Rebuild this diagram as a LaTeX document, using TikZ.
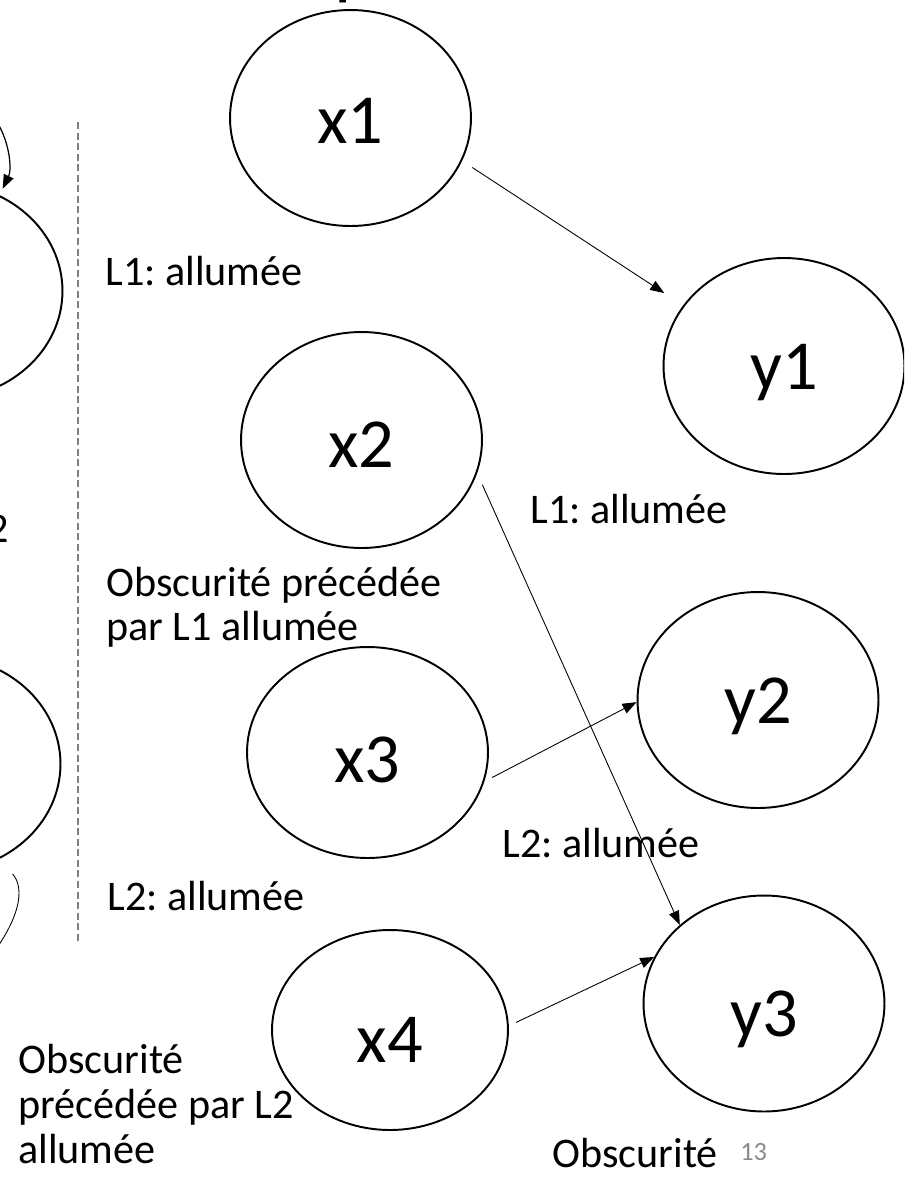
\documentclass[tikz,border=0pt]{standalone}
\usepackage{fontspec}
\setmainfont{Carlito}
\usetikzlibrary{shapes.geometric,arrows.meta}
\definecolor{pagenum}{HTML}{8A8A8A}
\definecolor{dashgray}{HTML}{7F7F7F}
\frenchspacing
\begin{document}
\begin{tikzpicture}[x=0.02cm,y=-0.02cm,
  state/.style={draw, ellipse, line width=1.1pt, minimum width=4.82cm, minimum height=4.32cm,
    inner sep=0pt, text height=0.92cm, text depth=0pt, font=\fontsize{40}{48}\selectfont},
  lbl/.style={anchor=base west, inner sep=0pt, font=\fontsize{24}{29}\selectfont},
  conn/.style={line width=0.5pt, -{Triangle[length=8pt,width=6pt]}},
  loopline/.style={line width=0.7pt},
]
\useasboundingbox (0,0) rectangle (904,1191);
\clip (0,0) rectangle (904,1191);

% states
\node[state, text height=1.0cm] (x1) at (350.5,118) {x1};
\node[state, text height=1.08cm] (x2) at (361.5,440) {x2};
\node[state, minimum height=4.22cm, text height=1.2cm] (x3) at (367.5,752.5) {x3};
\node[state, minimum width=4.72cm, minimum height=4.0cm, text height=1.28cm] (x4) at (390,1030) {x4};
\node[state] (y1) at (784,366) {y1};
\node[state] (y2) at (758,700) {y2};
\node[state, text height=1.32cm] (y3) at (764,1003.5) {y3};
\node[state] (lc1) at (-58,291) {};
\node[state] (lc2) at (-60,764) {};

% connectors
\draw[conn, shorten <=0.24cm, shorten >=0.45cm] (x1.-21) -- (y1.149);
\draw[conn, shorten <=0.256cm] (x2.-16.7) -- (y3.137.5);
\draw[conn, shorten <=0.176cm] (x3.-14.4) -- (y2.181);
\draw[conn, shorten <=0.16cm] (x4.2.7) -- (y3.157.4);

% self loops of the cut-off states
\coordinate (l1s) at (-30,100);
\draw[loopline, -{Triangle[length=8pt,width=6pt]}, shorten >=0.14cm] (l1s) .. controls (5,110) and (14,165) .. (lc1.59);
\coordinate (l2e) at (-20,970);
\draw[line width=0.5pt, shorten <=0.4cm] (lc2.-58) .. controls (25,888) and (22,920) .. (l2e);

% dashed separator
\coordinate (dtop) at (78,122);
\coordinate (dbot) at (78,942);
\draw[dashgray, line width=0.6pt, dash pattern=on 4pt off 2pt] (dtop) -- (dbot);

% labels
\node[lbl] (t1) at (105,285) {L1: allumée};
\node[lbl] (t2) at (530,523) {L1: allumée};
\node[lbl] (t3) at (106,596) {Obscurité précédée};
\node[lbl] (t4) at (106,640) {par L1 allumée};
\node[lbl] (t5) at (502,857) {L2: allumée};
\node[lbl] (t6) at (107,910) {L2: allumée};
\node[lbl] (t7) at (18,1073) {Obscurité};
\node[lbl] (t8) at (18,1118) {précédée par L2};
\node[lbl] (t9) at (18,1163) {allumée};
\node[lbl] (t10) at (552,1167) {Obscurité};
\node[anchor=base west, inner sep=0pt, text=pagenum, font=\fontsize{15}{18}\selectfont] (pg) at (740,1160) {13};

% cut-off glyphs at the picture edges
\node[anchor=base east, inner sep=0pt, font=\fontsize{24}{29}\selectfont] (cut2) at (9,542) {2};
\node[anchor=base west, inner sep=0pt, font=\fontsize{44}{52}\selectfont] (cutp) at (334,-10) {p};
\end{tikzpicture}
\end{document}
